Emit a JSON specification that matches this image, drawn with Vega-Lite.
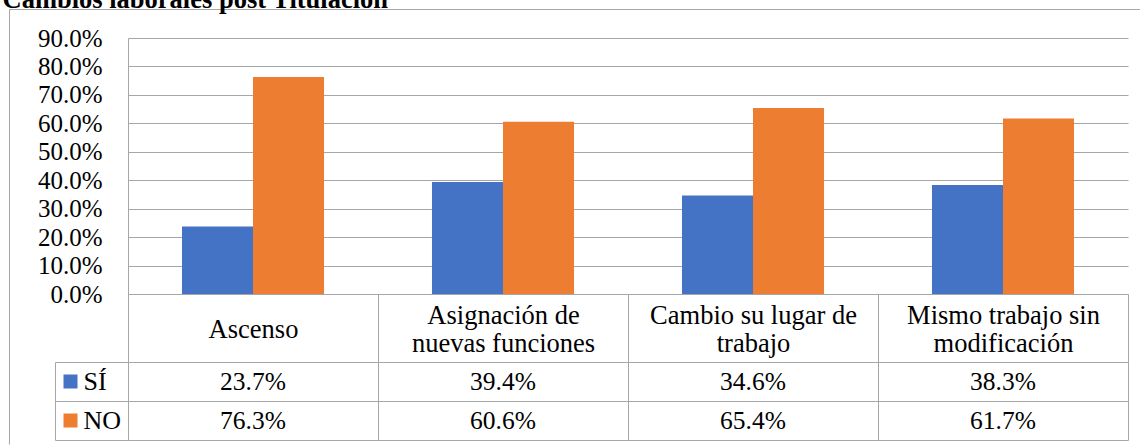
{
  "$schema": "https://vega.github.io/schema/vega-lite/v6.json",
  "background": "white",
  "padding": {"left": 2, "top": -13, "right": 0, "bottom": 0},
  "title": {
    "text": "Cambios laborales post Titulación",
    "anchor": "start",
    "frame": "bounds",
    "dx": -6,
    "dy": 28,
    "offset": 2,
    "baseline": "alphabetic",
    "font": "Liberation Serif",
    "fontSize": 26.5,
    "fontWeight": "bold",
    "color": "#000000"
  },
  "data": {
    "values": [
      {"cat": "Ascenso", "serie": "SÍ", "val": 0.237},
      {"cat": "Ascenso", "serie": "NO", "val": 0.763},
      {"cat": "Asignación de nuevas funciones", "serie": "SÍ", "val": 0.394},
      {"cat": "Asignación de nuevas funciones", "serie": "NO", "val": 0.606},
      {"cat": "Cambio su lugar de trabajo", "serie": "SÍ", "val": 0.346},
      {"cat": "Cambio su lugar de trabajo", "serie": "NO", "val": 0.654},
      {"cat": "Mismo trabajo sin modificación", "serie": "SÍ", "val": 0.383},
      {"cat": "Mismo trabajo sin modificación", "serie": "NO", "val": 0.617}
    ]
  },
  "bounds": "flush",
  "spacing": 68,
  "vconcat": [
    {
      "width": 1000,
      "height": 256,
      "layer": [
        {
          "mark": {"type": "bar"},
          "encoding": {
            "x": {
              "field": "cat", "type": "nominal", "sort": null,
              "scale": {"paddingInner": 0, "paddingOuter": 0},
              "axis": {
                "orient": "bottom",
                "title": null,
                "domain": true, "domainColor": "#A6A6A6", "domainWidth": 1,
                "ticks": true, "tickBand": "extent", "tickSize": 68, "tickColor": "#A6A6A6", "tickWidth": 1,
                "grid": false,
                "labelAngle": 0,
                "labelBaseline": "middle",
                "labelPadding": {"condition": {"test": "datum.value == 'Ascenso'", "value": -33}, "value": -47},
                "labelLineHeight": 28,
                "labelFont": "Liberation Serif",
                "labelFontSize": 26.5,
                "labelColor": "#000000",
                "labelLimit": 500,
                "labelOverlap": false,
                "labelBound": false,
                "labelExpr": "datum.label == 'Asignación de nuevas funciones' ? ['Asignación de', 'nuevas funciones'] : datum.label == 'Cambio su lugar de trabajo' ? ['Cambio su lugar de', 'trabajo'] : datum.label == 'Mismo trabajo sin modificación' ? ['Mismo trabajo sin', 'modificación'] : datum.label"
              }
            },
            "xOffset": {
              "field": "serie", "type": "nominal", "sort": ["SÍ", "NO"],
              "scale": {"paddingInner": 0, "paddingOuter": 0.76}
            },
            "y": {
              "field": "val", "type": "quantitative",
              "scale": {"domain": [0, 0.9], "nice": false, "zero": true},
              "axis": {
                "orient": "left",
                "title": null,
                "values": [0, 0.1, 0.2, 0.3, 0.4, 0.5, 0.6, 0.7, 0.8, 0.9],
                "format": ".1%",
                "grid": true, "gridColor": "#A6A6A6", "gridWidth": 1,
                "domain": true, "domainColor": "#A6A6A6",
                "ticks": false,
                "labelPadding": 26,
                "labelFont": "Liberation Serif",
                "labelFontSize": 25,
                "labelColor": "#000000"
              }
            },
            "color": {
              "field": "serie", "type": "nominal",
              "scale": {"domain": ["SÍ", "NO"], "range": ["#4472C4", "#ED7D31"]},
              "legend": null
            }
          }
        },
        {
          "mark": {"type": "bar", "opacity": 0},
          "encoding": {
            "x": {
              "field": "cat", "type": "nominal", "sort": null,
              "axis": {
                "orient": "bottom",
                "title": null,
                "values": ["Ascenso"],
                "bandPosition": 0,
                "tickExtra": false,
                "offset": 150,
                "tickOffset": -119,
                "tickSize": -435,
                "tickColor": "#A6A6A6",
                "tickWidth": 1,
                "domain": false, "labels": false, "grid": false
              }
            },
            "xOffset": {"field": "serie", "type": "nominal", "sort": ["SÍ", "NO"]},
            "y": {
              "field": "val", "type": "quantitative",
              "axis": {
                "orient": "left",
                "title": null,
                "values": [0.9],
                "offset": 119,
                "tickOffset": -29,
                "tickSize": -1132,
                "tickColor": "#A6A6A6",
                "tickWidth": 1,
                "domain": false, "labels": false, "grid": false
              }
            }
          }
        }
      ],
      "resolve": {"axis": {"x": "independent", "y": "independent"}}
    },
    {
      "width": 1000,
      "height": 78,
      "layer": [
        {
          "mark": {"type": "text", "font": "Liberation Serif", "fontSize": 25.5, "baseline": "middle", "align": "center", "color": "#000000"},
          "encoding": {
            "x": {
              "field": "cat", "type": "nominal", "sort": null,
              "scale": {"paddingInner": 0, "paddingOuter": 0},
              "axis": {
                "title": null, "orient": "bottom",
                "grid": true, "tickBand": "extent", "gridColor": "#A6A6A6", "gridWidth": 1,
                "ticks": false, "labels": false, "domain": false
              }
            },
            "y": {
              "field": "serie", "type": "nominal", "sort": ["SÍ", "NO"],
              "scale": {"paddingInner": 0, "paddingOuter": 0},
              "axis": {
                "title": null, "orient": "left",
                "grid": true, "tickBand": "extent", "gridColor": "#A6A6A6", "gridWidth": 1,
                "ticks": true, "tickSize": 73, "tickColor": "#A6A6A6", "tickWidth": 1,
                "domain": true, "domainColor": "#A6A6A6",
                "labels": false
              }
            },
            "text": {"field": "val", "type": "quantitative", "format": ".1%"}
          }
        },
        {
          "mark": {"type": "text", "text": "", "opacity": 0},
          "encoding": {
            "y": {
              "field": "serie", "type": "nominal", "sort": ["SÍ", "NO"],
              "axis": {
                "title": null, "orient": "left",
                "grid": false, "ticks": false, "domain": false,
                "labelAlign": "left",
                "labelBaseline": "middle",
                "labelPadding": 45,
                "labelFont": "Liberation Serif",
                "labelFontSize": 26,
                "labelColor": "#000000"
              }
            }
          }
        },
        {
          "mark": {"type": "text", "text": "", "opacity": 0},
          "encoding": {
            "y": {
              "field": "serie", "type": "nominal", "sort": ["SÍ", "NO"],
              "axis": {
                "title": null, "orient": "left",
                "offset": 51,
                "grid": false, "domain": false, "labels": false,
                "ticks": true, "tickSize": 14, "tickWidth": 14, "tickCap": "butt",
                "tickColor": {"condition": {"test": "datum.value === 'SÍ'", "value": "#4472C4"}, "value": "#ED7D31"}
              }
            }
          }
        },
        {
          "mark": {"type": "text", "text": "", "opacity": 0},
          "encoding": {
            "y": {
              "field": "serie", "type": "nominal", "sort": ["SÍ", "NO"],
              "axis": {
                "title": null, "orient": "left",
                "offset": 73,
                "grid": false, "ticks": false, "labels": false,
                "domain": true, "domainColor": "#A6A6A6", "domainWidth": 1
              }
            }
          }
        }
      ],
      "resolve": {"axis": {"y": "independent"}}
    }
  ],
  "config": {
    "view": {"stroke": null},
    "font": "Liberation Serif"
  }
}
